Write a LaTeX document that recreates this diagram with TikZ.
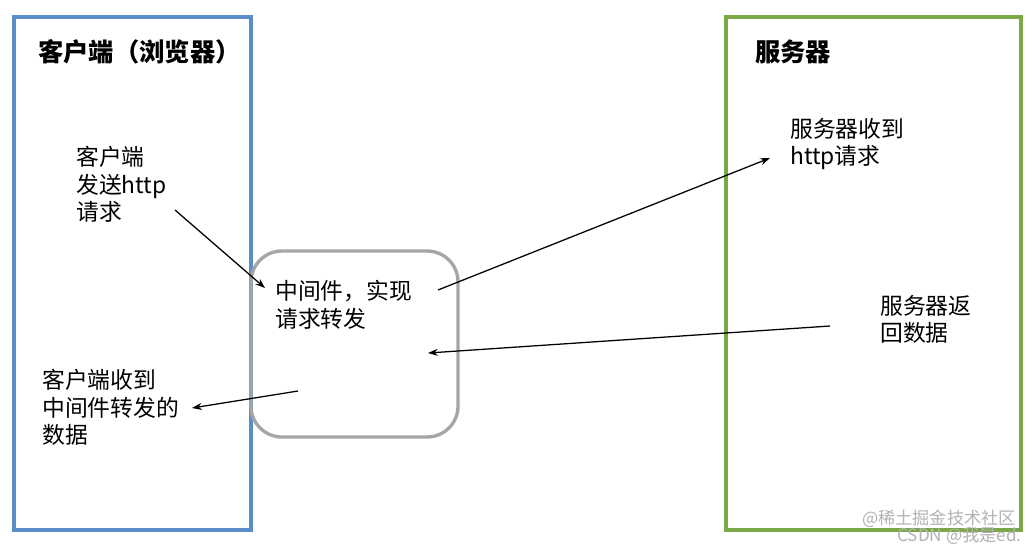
\documentclass[tikz,border=0pt]{standalone}
\usepackage{fontspec}
\newfontfamily\cjk{Noto Sans CJK SC}
\usetikzlibrary{arrows.meta}
\begin{document}
\begin{tikzpicture}[x=0.025cm,y=-0.025cm,
  lbl/.style={anchor=north west,inner sep=0pt,align=left,font=\cjk\fontsize{16.2}{19.5}\selectfont},
  ttl/.style={anchor=west,inner sep=0pt,font=\cjk\bfseries\fontsize{18}{21}\selectfont},
  arr/.style={-{Stealth[length=7pt,width=5pt]},line width=0.9pt},
  wm/.style={anchor=west,inner sep=0pt,text=gray!60,font=\cjk\fontsize{12.2}{14}\selectfont}]
\useasboundingbox (0,0) rectangle (1036,547);
\draw[line width=2.2pt,color={rgb,255:red,91;green,141;blue,201}] (14,17) rectangle (251,530);
\draw[line width=2.2pt,color={rgb,255:red,122;green,168;blue,68}] (726,17) rectangle (1021,530);
\draw[line width=2.4pt,color=gray!70,rounded corners=22pt] (251,251) rectangle (458,437);
\node[ttl] (t1) at (38,52) {客户端（浏览器）};
\node[ttl] (t2) at (755,52) {服务器};
\node[lbl] (a) at (76,146) {客户端\\发送http\\请求};
\node[lbl] (m) at (275,280) {中间件，实现\\请求转发};
\node[lbl] (s) at (790,118) {服务器收到\\http请求};
\node[lbl] (r) at (880,295) {服务器返\\回数据};
\node[lbl] (c) at (42,369) {客户端收到\\中间件转发的\\数据};
\coordinate (p1) at (175,210); \coordinate (q1) at (265,288);
\coordinate (p2) at (438,290); \coordinate (q2) at (770,158);
\coordinate (p3) at (830,326); \coordinate (q3) at (428,353);
\coordinate (p4) at (298,391); \coordinate (q4) at (192,408);
\draw[arr] (p1) -- (q1);
\draw[arr] (p2) -- (q2);
\draw[arr] (p3) -- (q3);
\draw[arr] (p4) -- (q4);
\node[wm] (w1) at (862,519) {@稀土掘金技术社区};
\node[wm] (w2) at (897,536) {CSDN @我是ed.};
\end{tikzpicture}
\end{document}
